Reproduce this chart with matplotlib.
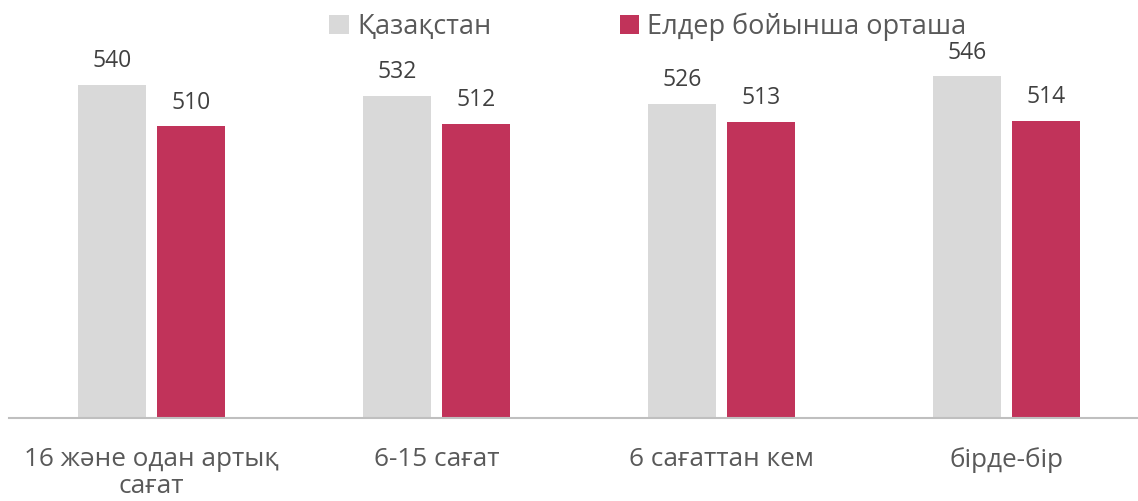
import matplotlib
matplotlib.use("Agg")
import matplotlib.pyplot as plt
import numpy as np

categories = ["16 және одан артық\nсағат", "6-15 сағат", "6 сағаттан кем", "бірде-бір"]
series_names = ["Қазақстан", "Елдер бойынша орташа"]
kazakhstan = [540, 532, 526, 546]
average = [510, 512, 513, 514]

plt.rcParams['font.family'] = ['Open Sans', 'DejaVu Sans']

fig = plt.figure(figsize=(11.38, 5.01), dpi=100)
W, H = 1138, 501
ax_left, ax_right = 9, 9 + 1140
ax_top, ax_bottom = 1.3, 418
ax = fig.add_axes([ax_left / W, (H - ax_bottom) / H, (ax_right - ax_left) / W, (ax_bottom - ax_top) / H])

x = np.arange(len(categories))
bw = 0.24
off = 0.1377
c_gray = "#D9D9D9"
c_red = "#C1335A"
b1 = ax.bar(x - off, kazakhstan, bw, color=c_gray, label=series_names[0], zorder=2)
b2 = ax.bar(x + off, average, bw, color=c_red, label=series_names[1], zorder=2)

fs_val = 16.5
fs_cat = 18.8
fs_leg = 19.5
for bars, vals in ((b1, kazakhstan), (b2, average)):
    for r, v in zip(bars, vals):
        ax.annotate(str(v), (r.get_x() + r.get_width() / 2, v), xytext=(0, 8.5),
                    textcoords="offset points", ha="center", va="bottom",
                    fontsize=fs_val, color="#404040")

ax.set_ylim(300, 600)
ax.set_xlim(-0.5, len(categories) - 0.5)
ax.set_yticks([])
ax.set_xticks(x)
ax.set_xticklabels(categories, fontsize=fs_cat, color="#595959", linespacing=1.12)
ax.tick_params(axis="x", length=0, pad=21)
for s in ("top", "right", "left"):
    ax.spines[s].set_visible(False)
ax.spines["bottom"].set_color("#BFBFBF")
ax.spines["bottom"].set_linewidth(1.5)

leg = fig.legend(handles=[b1, b2], labels=series_names, loc="center",
                 bbox_to_anchor=((329 + 967) / 2 / W, (H - 27) / H), ncol=2, frameon=False,
                 fontsize=fs_leg, handlelength=0.72, handleheight=0.72, handletextpad=0.3,
                 columnspacing=4.75, borderpad=0, borderaxespad=0)
for t in leg.get_texts():
    t.set_color("#595959")

fig.savefig("out.png", dpi=100)
